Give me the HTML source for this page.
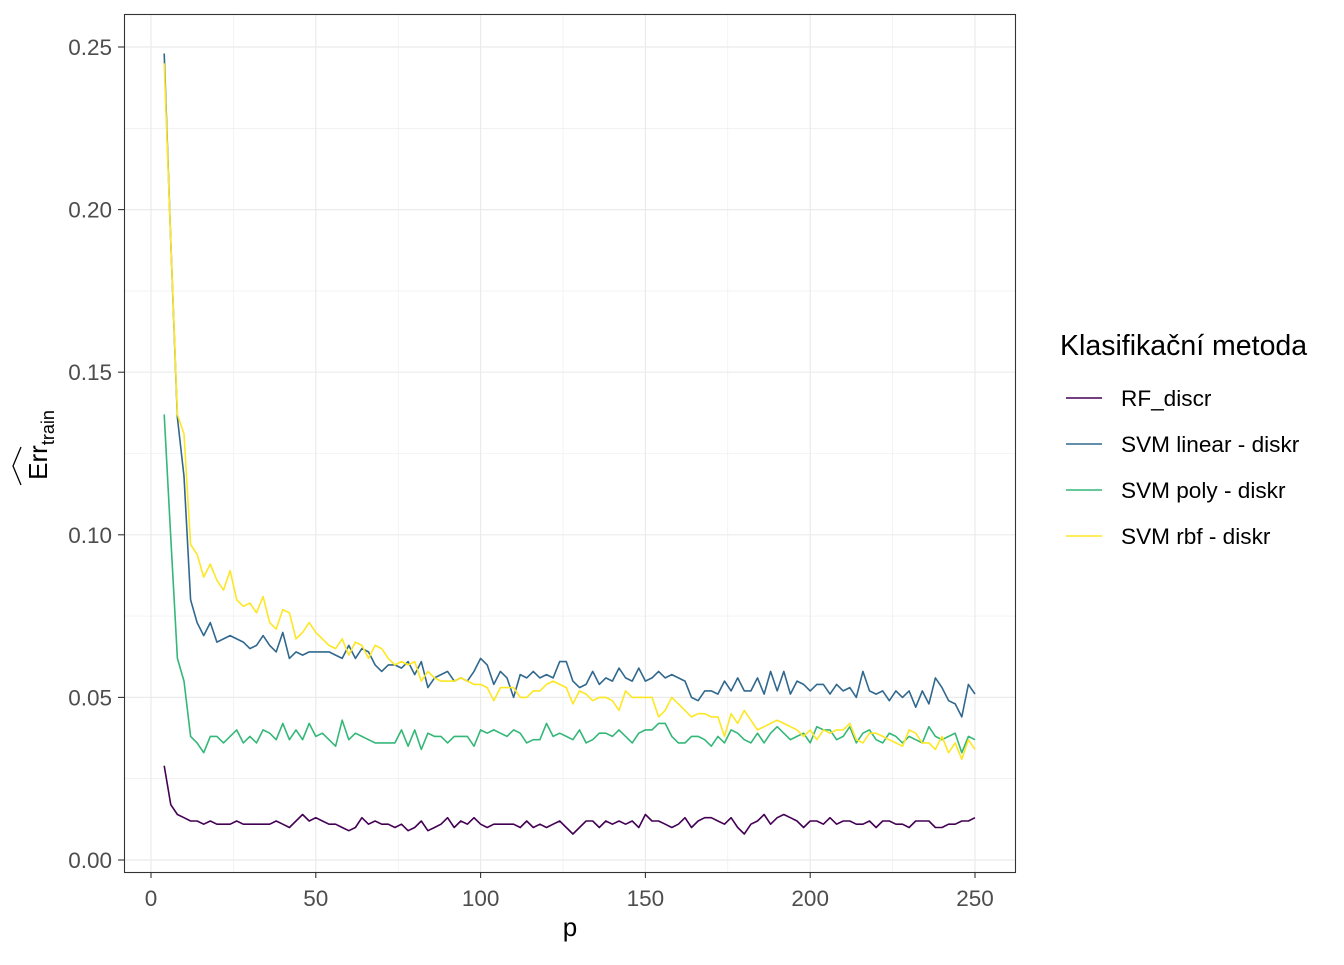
<!DOCTYPE html>
<html><head><meta charset="utf-8"><style>
body{margin:0;background:#fff;font-family:"Liberation Sans",sans-serif}
svg text{font-family:"Liberation Sans",sans-serif}
</style></head><body>
<svg id="chart" width="1344" height="960" xmlns="http://www.w3.org/2000/svg">
<rect x="0" y="0" width="1344" height="960" fill="#fff"/>
<g id="grid"></g>
<g id="series"></g>
<rect x="124.5" y="14.5" width="891" height="858" fill="none" stroke="#333" stroke-width="1.1"/>
<g id="axes"></g>
<text x="570" y="936" font-size="26" text-anchor="middle" fill="#000">p</text>
<g transform="translate(47,445) rotate(-90)">
<text x="0" y="0" font-size="26" text-anchor="middle" fill="#000">Err<tspan font-size="18" dy="7">train</tspan></text>
<path d="M-40,-26 L-21,-34 L-2,-26" fill="none" stroke="#000" stroke-width="1.3"/>
</g>
<g id="legend">
<text x="1060" y="355" font-size="28.5" fill="#000">Klasifikační metoda</text>
</g>
</svg>
<script>
const pVals=[];for(let p=4;p<=250;p+=2)pVals.push(p);
const seriesNames=["RF_discr","SVM linear - diskr","SVM poly - diskr","SVM rbf - diskr"];
const seriesColors=["#440154","#31688E","#35B779","#FDE725"];
const rfVals=[.029,.017,.014,.013,.012,.012,.011,.012,.011,.011,
.011,.012,.011,.011,.011,.011,.011,.012,.011,.010,
.012,.014,.012,.013,.012,.011,.011,.010,.009,.010,
.013,.011,.012,.011,.011,.010,.011,.009,.010,.012,
.009,.010,.011,.013,.010,.012,.011,.013,.011,.010,
.011,.011,.011,.011,.010,.012,.010,.011,.010,.011,
.012,.010,.008,.010,.012,.012,.010,.012,.011,.012,
.011,.012,.010,.014,.012,.012,.011,.010,.011,.013,
.010,.012,.013,.013,.012,.011,.013,.010,.008,.011,
.012,.014,.011,.013,.014,.013,.012,.010,.012,.012,
.011,.013,.011,.012,.012,.011,.011,.012,.010,.012,
.012,.011,.011,.010,.012,.012,.012,.010,.010,.011,
.011,.012,.012,.013];
const linVals=[.248,.19,.136,.118,.080,.073,.069,.073,.067,.068,
.069,.068,.067,.065,.066,.069,.066,.064,.070,.062,
.064,.063,.064,.064,.064,.064,.063,.062,.066,.062,
.065,.064,.060,.058,.060,.060,.059,.061,.057,.061,
.053,.056,.057,.058,.055,.056,.055,.058,.062,.060,
.054,.058,.056,.050,.057,.056,.058,.056,.057,.056,
.061,.061,.055,.053,.054,.058,.054,.056,.055,.059,
.056,.055,.059,.055,.056,.058,.056,.057,.056,.055,
.050,.049,.052,.052,.051,.055,.052,.056,.052,.052,
.056,.051,.058,.052,.058,.051,.055,.054,.052,.054,
.054,.051,.054,.052,.053,.050,.058,.052,.051,.052,
.049,.052,.050,.052,.047,.052,.048,.056,.053,.049,
.048,.044,.054,.051];
const polyVals=[.137,.099,.062,.055,.038,.036,.033,.038,.038,.036,
.038,.040,.036,.038,.036,.040,.039,.037,.042,.037,
.040,.037,.042,.038,.039,.037,.035,.043,.037,.039,
.038,.037,.036,.036,.036,.036,.040,.035,.040,.034,
.039,.038,.038,.036,.038,.038,.038,.035,.040,.039,
.040,.039,.038,.040,.039,.036,.037,.037,.042,.038,
.039,.038,.037,.040,.036,.037,.039,.039,.038,.040,
.038,.036,.039,.040,.040,.042,.042,.038,.036,.036,
.038,.038,.037,.035,.038,.036,.040,.039,.037,.036,
.039,.036,.039,.041,.039,.037,.038,.039,.036,.041,
.040,.040,.037,.038,.041,.036,.039,.040,.037,.036,
.039,.038,.036,.038,.037,.036,.041,.038,.037,.038,
.039,.033,.038,.037];
const rbfVals=[.245,.19,.137,.131,.097,.094,.087,.091,.086,.083,
.089,.080,.078,.079,.076,.081,.073,.071,.077,.076,
.068,.070,.073,.070,.068,.066,.065,.068,.063,.067,
.066,.062,.066,.065,.062,.060,.061,.060,.061,.055,
.058,.056,.055,.055,.055,.056,.055,.054,.054,.053,
.049,.053,.053,.053,.050,.050,.052,.052,.054,.055,
.054,.053,.048,.052,.051,.049,.050,.050,.049,.046,
.052,.050,.050,.050,.050,.044,.046,.050,.048,.046,
.044,.045,.045,.044,.044,.038,.045,.042,.046,.043,
.040,.041,.042,.043,.042,.041,.040,.038,.040,.037,
.040,.039,.040,.040,.042,.037,.036,.039,.039,.038,
.037,.036,.035,.040,.039,.036,.036,.034,.038,.033,
.036,.031,.037,.034];
const xTicks=[0,50,100,150,200,250];
const yTicks=[0,0.05,0.10,0.15,0.20,0.25];
const yTickLabels=["0.00","0.05","0.10","0.15","0.20","0.25"];
const NS="http://www.w3.org/2000/svg";
const X=v=>151+v*(975-151)/250;
const Y=v=>860-v*(860-47)/0.25;
function mk(tag,attrs,parent){const e=document.createElementNS(NS,tag);for(const k in attrs)e.setAttribute(k,attrs[k]);parent.appendChild(e);return e;}
const grid=document.getElementById('grid'),axes=document.getElementById('axes'),ser=document.getElementById('series'),leg=document.getElementById('legend');
for(let i=0;i<yTicks.length-1;i++){const v=(yTicks[i]+yTicks[i+1])/2;const l=mk('line',{x1:124,x2:1016,y1:Y(v),y2:Y(v),stroke:'#ebebeb','stroke-width':0.6},grid);
}
for(let i=0;i<xTicks.length-1;i++){const v=(xTicks[i]+xTicks[i+1])/2;const l=mk('line',{x1:X(v),x2:X(v),y1:14,y2:872,stroke:'#ebebeb','stroke-width':0.6},grid);
}
yTicks.forEach((v,i)=>{const l=mk('line',{x1:124,x2:1016,y1:Y(v),y2:Y(v),stroke:'#ebebeb','stroke-width':1.2},grid);

const t=mk('line',{x1:118,x2:124,y1:Y(v),y2:Y(v),stroke:'#333','stroke-width':1.1},axes);

const tx=mk('text',{x:112,y:Y(v)+8,'font-size':22.5,'text-anchor':'end',fill:'#4d4d4d'},axes);tx.textContent=yTickLabels[i];
});
xTicks.forEach(v=>{const l=mk('line',{x1:X(v),x2:X(v),y1:14,y2:872,stroke:'#ebebeb','stroke-width':1.2},grid);

const t=mk('line',{x1:X(v),x2:X(v),y1:872,y2:878,stroke:'#333','stroke-width':1.1},axes);

const tx=mk('text',{x:X(v),y:906,'font-size':22.5,'text-anchor':'middle',fill:'#4d4d4d'},axes);tx.textContent=String(v);
});
const allVals=[rfVals,linVals,polyVals,rbfVals];
allVals.forEach((vals,s)=>{const d=vals.map((v,i)=>(i?'L':'M')+X(pVals[i]).toFixed(1)+','+Y(v).toFixed(1)).join(' ');
const path=mk('path',{d:d,fill:'none',stroke:seriesColors[s],'stroke-width':1.6,'stroke-linejoin':'round'},ser);


const y=398+s*46;
const ll=mk('line',{x1:1066,x2:1102,y1:y,y2:y,stroke:seriesColors[s],'stroke-width':1.6},leg);

const lt=mk('text',{x:1121,y:y+8,'font-size':22.6,fill:'#000'},leg);lt.textContent=seriesNames[s];
});
</script>
</body></html>
